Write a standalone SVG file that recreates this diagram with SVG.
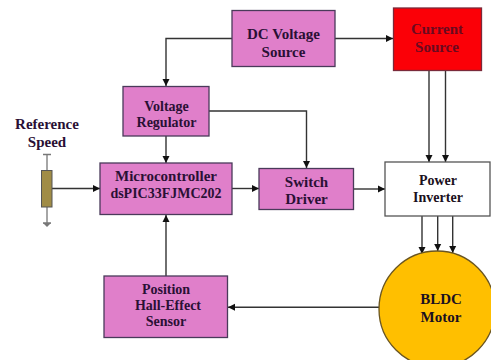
<svg xmlns="http://www.w3.org/2000/svg" width="491" height="360" viewBox="0 0 491 360">
<style>
.b{fill:#e07fca;stroke:#4a3a5a;stroke-width:1.3}
.t{font-family:"Liberation Serif",serif;font-weight:bold;font-size:15px;fill:#2a1035;text-anchor:middle}
.s{font-size:14px}
.d{fill:#1a1020}
.r{fill:#6a0a20}
.c{fill:none;stroke:#333;stroke-width:1.4}
</style>
<defs><marker id="a" markerUnits="userSpaceOnUse" markerWidth="8" markerHeight="8" refX="7" refY="4" orient="auto"><path d="M0 .5L7 4L0 7.500Z" fill="#111"/></marker></defs>
<rect width="491" height="360" fill="#fff"/>
<g id="connectors">
<path class="c" d="M232 38.500H166V86" marker-end="url(#a)"/>
<path class="c" d="M335 38.500H393" marker-end="url(#a)"/>
<path class="c" d="M166 136V163" marker-end="url(#a)"/>
<path class="c" d="M209 111H306.500V168" marker-end="url(#a)"/>
<path class="c" d="M52 188.500H100" marker-end="url(#a)"/>
<path class="c" d="M232 188.500H259" marker-end="url(#a)"/>
<path class="c" d="M354 189H385" marker-end="url(#a)"/>
<path class="c" d="M429 71V162" marker-end="url(#a)"/>
<path class="c" d="M445.500 71V162" marker-end="url(#a)"/>
<path class="c" d="M422 216V254" marker-end="url(#a)"/>
<path class="c" d="M437.700 216V251" marker-end="url(#a)"/>
<path class="c" d="M452.700 216V253" marker-end="url(#a)"/>
<path class="c" d="M379 307.300H228" marker-end="url(#a)"/>
<path class="c" d="M166 276V215" marker-end="url(#a)"/>
</g>
<g id="dc"><rect class="b" x="232" y="10.500" width="103" height="56"/><text class="t" x="283.500" y="39">DC Voltage</text><text class="t" x="283.500" y="57">Source</text></g>
<g id="current"><rect x="393.500" y="8" width="88" height="62.500" fill="#fb0007" stroke="#7a2a3a" stroke-width="1.300"/><text class="t r" x="437" y="34">Current</text><text class="t r" x="437" y="52">Source</text></g>
<g id="regulator"><rect class="b" x="123" y="86.500" width="86" height="49.500"/><text class="t s" x="166.500" y="110.500">Voltage</text><text class="t s" x="166.500" y="126.500">Regulator</text></g>
<g id="mcu"><rect class="b" x="100" y="163" width="132" height="51.500"/><text class="t" x="166" y="181">Microcontroller</text><text class="t s" x="166" y="198">dsPIC33FJMC202</text></g>
<g id="switch"><rect class="b" x="259" y="168.500" width="94.500" height="41"/><text class="t" x="306.500" y="187">Switch</text><text class="t" x="306.500" y="204">Driver</text></g>
<g id="inverter"><rect x="385" y="162" width="105" height="54" fill="#fff" stroke="#555" stroke-width="1.300"/><text class="t s d" x="438" y="185">Power</text><text class="t s d" x="438" y="202">Inverter</text></g>
<g id="sensor"><rect class="b" x="104" y="276" width="123.500" height="61.500"/><text class="t s" x="166" y="294">Position</text><text class="t s" x="168" y="310">Hall-Effect</text><text class="t s" x="166" y="326">Sensor</text></g>
<g id="motor"><circle cx="437" cy="309" r="58" fill="#ffbf00" stroke="#6a5520" stroke-width="1.300"/><text class="t d" x="441" y="304">BLDC</text><text class="t d" x="441" y="322">Motor</text></g>
<g id="reference"><text class="t" x="47" y="129">Reference</text><text class="t" x="47" y="147">Speed</text>
<path d="M47 154V171M47 207V223M43 154.500H51M43 223H51" fill="none" stroke="#777" stroke-width="1.300"/><path d="M43 223L47 227L51 223Z" fill="#777"/>
<rect x="41.500" y="170.500" width="10.500" height="36.500" fill="#a08c46" stroke="#555" stroke-width="1"/></g>
</svg>
